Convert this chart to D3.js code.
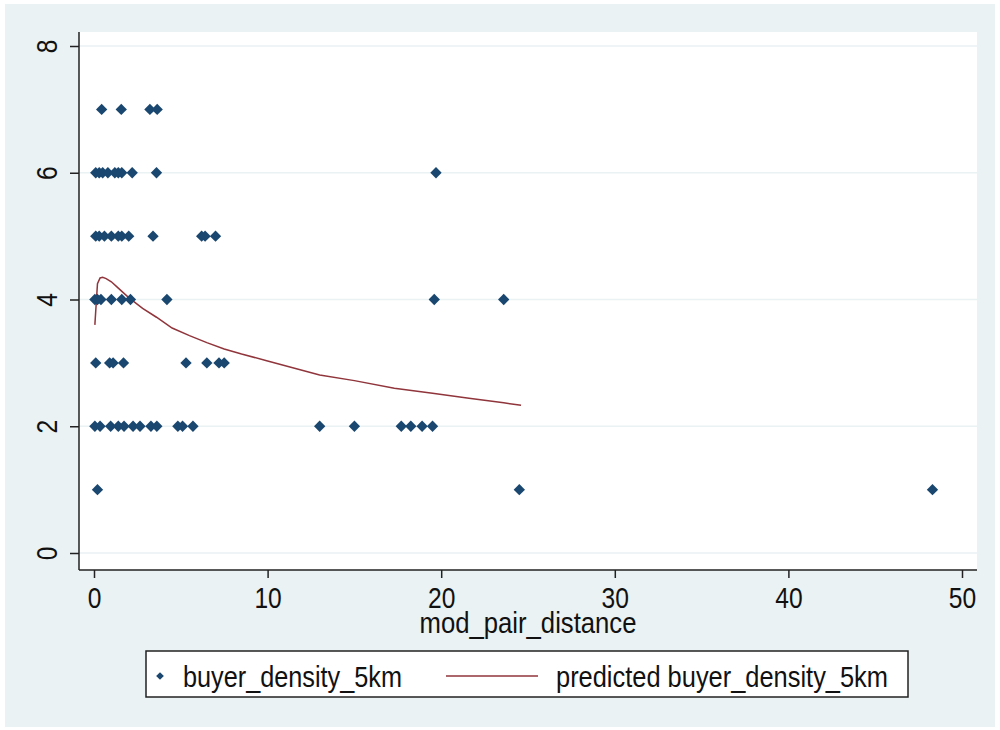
<!DOCTYPE html>
<html>
<head>
<meta charset="utf-8">
<script src="https://cdn.jsdelivr.net/npm/d3@7"></script>
<style>
  body { margin: 0; background: #fff; }
  text { font-family: "Liberation Sans", Arial, sans-serif; fill: #111; }
</style>
</head>
<body>
<div id="chart"></div>
<script>
// observed points: mod_pair_distance / buyer_density_5km
const distance = [
  0.44, 1.57, 3.22, 3.64,
  0.1, 0.3, 0.5, 0.8, 1.2, 1.4, 1.6, 2.2, 3.6, 19.7,
  0.1, 0.3, 0.6, 1.0, 1.4, 1.6, 2.0, 3.4, 6.2, 6.4, 7.0,
  0.05, 0.2, 0.4, 1.0, 1.6, 2.1, 4.2, 19.6, 23.6,
  0.1, 0.9, 1.1, 1.7, 5.3, 6.5, 7.2, 7.5,
  0.05, 0.35, 0.96, 1.4, 1.73, 2.25, 2.65, 3.28, 3.62, 4.83, 5.1, 5.7,
  13.0, 15.0, 17.7, 18.25, 18.9, 19.5,
  0.2, 24.5, 48.3
];
const density = [
  7, 7, 7, 7,
  6, 6, 6, 6, 6, 6, 6, 6, 6, 6,
  5, 5, 5, 5, 5, 5, 5, 5, 5, 5, 5,
  4, 4, 4, 4, 4, 4, 4, 4, 4,
  3, 3, 3, 3, 3, 3, 3, 3,
  2, 2, 2, 2, 2, 2, 2, 2, 2, 2, 2, 2,
  2, 2, 2, 2, 2, 2,
  1, 1, 1
];

// fitted values
const fitX = [0.05, 0.2, 0.35, 0.5, 0.7, 1.0, 1.4, 2.0, 2.8, 3.6, 4.5, 5.5, 6.5, 7.5, 8.5, 10, 13, 15, 17.3, 19.5, 21.6, 23.6, 24.6];
const fitY = [3.6, 4.25, 4.34, 4.35, 4.33, 4.28, 4.18, 4.03, 3.86, 3.72, 3.55, 3.43, 3.32, 3.22, 3.14, 3.03, 2.81, 2.72, 2.6, 2.52, 2.44, 2.37, 2.33];

const xTicks = [0, 10, 20, 30, 40, 50];
const yTicks = [0, 2, 4, 6, 8];

const width = 1000, height = 730;
const plot = { left: 79, right: 977, top: 32, bottom: 570 };
const navy = "#1a476f", maroon = "#90353b";
const squeeze = "scale(0.82,1)"; // narrow look of the original font

const svg = d3.select("#chart").append("svg")
  .attr("width", width)
  .attr("height", height);

svg.append("rect")
  .attr("x", 5).attr("y", 4)
  .attr("width", 990).attr("height", 723)
  .attr("fill", "#eaf2f3");

svg.append("rect")
  .attr("x", plot.left).attr("y", plot.top)
  .attr("width", plot.right - plot.left)
  .attr("height", plot.bottom - plot.top)
  .attr("fill", "#fff");

const x = d3.scaleLinear().domain([0, 50]).range([94, 962]);
const y = d3.scaleLinear().domain([0, 8]).range([553, 46]);

// gridlines
svg.append("g")
  .selectAll("line")
  .data(yTicks)
  .join("line")
  .attr("x1", plot.left)
  .attr("x2", plot.right)
  .attr("y1", (d) => y(d))
  .attr("y2", (d) => y(d))
  .attr("stroke", "#eaf2f3")
  .attr("stroke-width", 1.5);

// axes
const xAxis = svg.append("g")
  .attr("transform", `translate(0,${plot.bottom})`)
  .call(d3.axisBottom(x).tickValues(xTicks).tickSize(8).tickPadding(9).tickFormat(d3.format("d")));
xAxis.select(".domain").attr("d", `M${plot.left},0H${plot.right}`);

const yAxis = svg.append("g")
  .attr("transform", `translate(${plot.left},0)`)
  .call(d3.axisLeft(y).tickValues(yTicks).tickSize(9).tickPadding(0).tickFormat(d3.format("d")));
yAxis.select(".domain").attr("d", `M0,${plot.top}V${plot.bottom}`);

[xAxis, yAxis].forEach((g) => {
  g.selectAll(".domain").attr("stroke", "#222").attr("stroke-width", 1.5);
  g.selectAll(".tick line").attr("stroke", "#222").attr("stroke-width", 1.5);
  g.selectAll("text").style("font-size", "30px").attr("fill", "#111");
});

xAxis.selectAll(".tick text")
  .attr("dy", "0.71em")
  .attr("transform", squeeze);

yAxis.selectAll(".tick text")
  .attr("x", null).attr("dy", null)
  .attr("text-anchor", "middle")
  .attr("transform", `translate(-22,0) rotate(-90) ${squeeze}`);

svg.append("text")
  .attr("x", (plot.left + plot.right) / 2)
  .attr("y", 633)
  .attr("text-anchor", "middle")
  .attr("textLength", 217)
  .attr("lengthAdjust", "spacingAndGlyphs")
  .style("font-size", "30px")
  .text("mod_pair_distance");

// fitted line
svg.append("path")
  .datum(d3.zip(fitX, fitY))
  .attr("fill", "none")
  .attr("stroke", maroon)
  .attr("stroke-width", 1.5)
  .attr("d", d3.line().x((d) => x(d[0])).y((d) => y(d[1])));

// points
const diamond = d3.symbol().type(d3.symbolSquare).size(64);
svg.append("g")
  .selectAll("path")
  .data(d3.zip(distance, density))
  .join("path")
  .attr("d", diamond)
  .attr("transform", (d) => `translate(${x(d[0])},${y(d[1])}) rotate(45)`)
  .attr("fill", navy);

// legend
const legend = svg.append("g");
legend.append("rect")
  .attr("x", 146).attr("y", 651)
  .attr("width", 762).attr("height", 46)
  .attr("fill", "#fff")
  .attr("stroke", "#222")
  .attr("stroke-width", 1.5);
legend.append("path")
  .attr("d", d3.symbol().type(d3.symbolSquare).size(30))
  .attr("transform", "translate(160,676) rotate(45)")
  .attr("fill", navy);
legend.append("text")
  .attr("x", 183).attr("y", 687)
  .attr("textLength", 219)
  .attr("lengthAdjust", "spacingAndGlyphs")
  .style("font-size", "30px")
  .text("buyer_density_5km");
legend.append("line")
  .attr("x1", 446).attr("x2", 538)
  .attr("y1", 676).attr("y2", 676)
  .attr("stroke", maroon)
  .attr("stroke-width", 1.5);
legend.append("text")
  .attr("x", 556).attr("y", 687)
  .attr("textLength", 332)
  .attr("lengthAdjust", "spacingAndGlyphs")
  .style("font-size", "30px")
  .text("predicted buyer_density_5km");
</script>
</body>
</html>
